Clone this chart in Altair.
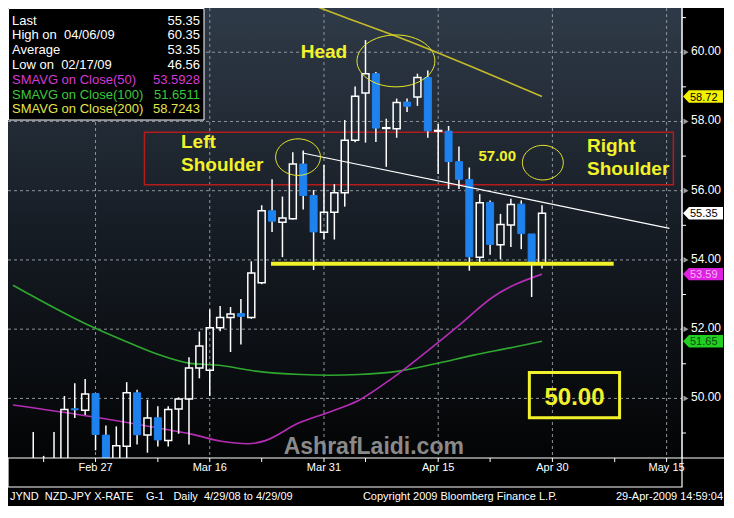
import altair as alt
import pandas as pd
import numpy as np

W, H = 674, 450
PAD_R, PAD_B = 42, 48
SX, SY = W / 692.0, H / 468.0
NB = "\u00a0"

# ---------------- data ----------------
day_idx = list(range(-8, 44))
opens = [47.3, 47.2, 47.7, 48.0, 47.9, 48.1, 49.70, 49.66, 50.14, 48.94, 48.0, 48.62, 50.16, 48.94, 49.44, 48.78,
         49.69, 49.98, 50.88, 50.81, 52.04, 52.34, 52.45, 52.34, 53.34, 55.42, 55.09, 55.19, 56.77, 55.86, 54.80,
         55.38, 55.94, 57.46, 58.82, 59.38, 57.80, 57.79, 58.56, 58.71, 59.27, 57.72, 57.72, 56.84, 56.32, 54.08,
         55.66, 54.44, 55.01, 55.61, 54.75, 53.90]
highs = [47.6, 47.9, 49.03, 48.34, 49.03, 50.07, 50.44, 50.56, 50.15, 49.22, 49.19, 50.47, 50.25, 49.96, 49.77,
         49.77, 50.03, 51.19, 51.93, 52.57, 52.67, 52.64, 52.87, 53.96, 55.58, 56.33, 55.83, 57.11, 57.16, 56.02,
         56.74, 56.19, 58.04, 59.01, 60.35, 59.43, 58.08, 58.66, 58.66, 59.38, 59.47, 57.93, 57.87, 57.28, 56.67,
         55.90, 55.72, 55.33, 55.77, 55.72, 54.75, 55.58]
lows = [46.56, 46.9, 47.5, 47.6, 47.7, 47.9, 49.43, 49.52, 48.5, 47.9, 47.8, 48.2, 48.67, 48.43, 48.61, 48.61,
        48.98, 48.67, 50.58, 50.07, 51.94, 51.34, 51.56, 52.30, 53.30, 54.81, 54.08, 55.17, 55.46, 53.71, 54.59,
        54.59, 55.54, 57.40, 57.39, 57.41, 56.69, 57.53, 58.27, 58.45, 57.53, 56.48, 56.05, 56.05, 53.69, 53.92,
        54.15, 54.02, 54.37, 54.31, 52.93, 53.75]
closes = [47.1, 47.7, 48.0, 47.9, 48.1, 49.68, 49.67, 50.13, 48.96, 48.1, 48.63, 50.16, 48.95, 49.43, 48.80, 49.68,
          49.98, 50.88, 51.51, 52.04, 52.34, 52.44, 52.37, 53.62, 55.42, 55.12, 55.21, 56.77, 55.86, 54.81, 55.38,
          55.94, 57.46, 58.73, 59.38, 57.81, 57.82, 58.55, 58.44, 59.27, 57.73, 57.74, 56.84, 56.33, 54.09, 55.65,
          54.45, 55.02, 55.60, 54.76, 53.92, 55.35]

ma50_idx = [-7.95, -0.28, 5.92, 9.34, 12.11, 14.7, 16.36, 19.5, 22.55, 25.33, 28.56, 31.8, 35.0, 38.27, 43]
ma50_val = [49.81, 49.47, 49.15, 48.96, 48.76, 48.69, 48.78, 49.28, 49.61, 49.94, 50.58, 51.33, 52.11, 52.93, 53.59]
ma100_idx = [-7.95, -0.28, 2.87, 5.92, 8.97, 12.11, 15.16, 19.78, 22.55, 25.33, 29.03, 32.72, 36.42, 40.12, 43]
ma100_val = [53.27, 52.06, 51.65, 51.28, 51.02, 50.95, 50.80, 50.69, 50.67, 50.69, 50.78, 51.00, 51.25, 51.47, 51.65]
ma200_idx = [18, 24, 30, 36, 43]
ma200_val = [61.69, 61.01, 60.34, 59.61, 58.72]

x_tick_vals = [0, 11, 22, 33, 44, 55]
x_tick_labels = ["Feb 27", "Mar 16", "Mar 31", "Apr 15", "Apr 30", "May 15"]
x_minor = [-5, 6, 16, 26, 38, 50]
y_grid = [50, 52, 54, 56, 58, 60]
y_minor = [49, 51, 53, 55, 57, 59, 61]

legend_labels = ["Last", f"High on{NB}{NB}04/06/09", "Average", f"Low on{NB}{NB}02/17/09",
                 "SMAVG on Close(50)", "SMAVG on Close(100)", "SMAVG on Close(200)"]
legend_values = ["55.35", "60.35", "53.35", "46.56", "53.5928", "51.6511", "58.7243"]
legend_colors = ["#ffffff", "#ffffff", "#ffffff", "#ffffff", "#d63ad6", "#3cc83c", "#e6e64a"]

tag_vals = [58.72, 55.35, 53.59, 51.65]
tag_fill = ["#f2f200", "#ffffff", "#e020e0", "#22d022"]
tag_text = ["#000000", "#000000", "#f6b6f6", "#0b4a0b"]

neck_idx = [19.93, 55.27]
neck_val = [57.09, 54.91]
support_idx = [16.9, 49.9]
support_val = [53.89, 53.89]
zone_idx = [4.71, 55.65]
zone_val = [57.69, 56.17]
target_box_idx = [41.78, 50.47]
target_box_val = [50.75, 49.44]

ell_idx = [28.93, 19.5, 43.08]
ell_val = [59.75, 56.97, 56.81]
ell_rx = [40, 23, 21]
ell_ry = [27, 19, 18]

ann_text = ["Head", "Left", "Shoulder", "Right", "Shoulder", "57.00", "50.00"]
ann_idx = [22.0, 8.23, 8.23, 47.33, 47.33, 36.88, 46.13]
ann_val = [59.83, 57.22, 56.575, 57.13, 56.46, 56.85, 49.80]
ann_size = [19, 19, 19, 19, 19, 15, 24]
ann_align = ["center", "left", "left", "left", "left", "left", "center"]

footer_left = f"JYND{NB}{NB}NZD-JPY X-RATE{NB}{NB}{NB}{NB}G-1{NB}{NB}{NB}Daily{NB}{NB}4/29/08 to 4/29/09"
footer_mid = "Copyright 2009 Bloomberg Finance L.P."
footer_right = "29-Apr-2009 14:59:04"

# ---------------- scales ----------------
XD = [-7.95, 56.0]
YD = [48.278, 61.278]
xs = alt.Scale(domain=XD, nice=False, zero=False)
ys = alt.Scale(domain=YD, nice=False, zero=False)

c = pd.DataFrame({"i": day_idx, "o": opens, "h": highs, "l": lows, "c": closes})
c["top"] = c[["o", "c"]].max(axis=1)
c["bot"] = c[["o", "c"]].min(axis=1)
up = c[c["c"] >= c["o"]]
dn = c[c["c"] < c["o"]]

one = pd.DataFrame({"a": [0]})
FONT = "Liberation Sans"
YEL = "#f2f22a"


def X(f):
    return alt.X(f, scale=xs, axis=None)


def Y(f):
    return alt.Y(f, scale=ys, axis=None)


# background gradient
bg = alt.Chart(one).mark_rect(
    color=alt.LinearGradient(gradient="linear", x1=0, x2=0, y1=0, y2=1,
                             stops=[alt.GradientStop(color="#2f3a48", offset=0),
                                    alt.GradientStop(color="#161c24", offset=0.5),
                                    alt.GradientStop(color="#030405", offset=1)])
).encode(x=alt.value(0), x2=alt.value(W), y=alt.value(0), y2=alt.value(H))

gx = alt.Chart(pd.DataFrame({"g": x_tick_vals})).mark_rule(
    color="#8f959c", strokeDash=[3, 3], strokeWidth=1, clip=True
).encode(x=X("g:Q"), y=alt.value(0), y2=alt.value(H))
gy = alt.Chart(pd.DataFrame({"g": y_grid})).mark_rule(
    color="#8f959c", strokeDash=[3, 3], strokeWidth=1
).encode(y=Y("g:Q"), x=alt.value(0), x2=alt.value(W))


def ma_line(ix, vals, color):
    return alt.Chart(pd.DataFrame({"i": ix, "v": vals})).mark_line(
        color=color, strokeWidth=1.6, interpolate="monotone", clip=True
    ).encode(x=X("i:Q"), y=Y("v:Q"))


ma50 = ma_line(ma50_idx, ma50_val, "#b52db5")
ma100 = ma_line(ma100_idx, ma100_val, "#2fa82f")
ma200 = ma_line(ma200_idx, ma200_val, "#c4bb2a")

wick_hi = alt.Chart(c).mark_rule(color="white", strokeWidth=1.5, clip=True).encode(
    x=X("i:Q"), y=Y("h:Q"), y2="top:Q")
wick_lo = alt.Chart(c).mark_rule(color="white", strokeWidth=1.5, clip=True).encode(
    x=X("i:Q"), y=Y("bot:Q"), y2="l:Q")
body_up = alt.Chart(up).mark_bar(size=7, fillOpacity=0, stroke="white", strokeWidth=1.5, clip=True,
                                 orient="vertical").encode(x=X("i:Q"), y=Y("o:Q"), y2="c:Q")
body_dn = alt.Chart(dn).mark_bar(size=7, color="#1e82ee", stroke="#1e82ee", strokeWidth=1, clip=True,
                                 orient="vertical").encode(x=X("i:Q"), y=Y("o:Q"), y2="c:Q")

zone = alt.Chart(pd.DataFrame({"x1": [zone_idx[0]], "x2": [zone_idx[1]], "y1": [zone_val[0]], "y2": [zone_val[1]]})
                 ).mark_rect(fillOpacity=0, stroke="#b41c1c", strokeWidth=1.5).encode(
    x=X("x1:Q"), x2="x2:Q", y=Y("y1:Q"), y2="y2:Q")

neck = alt.Chart(pd.DataFrame({"i": neck_idx, "v": neck_val})).mark_line(color="white", strokeWidth=1.2).encode(
    x=X("i:Q"), y=Y("v:Q"))
support = alt.Chart(pd.DataFrame({"i": support_idx, "v": support_val})).mark_line(color=YEL, strokeWidth=4).encode(
    x=X("i:Q"), y=Y("v:Q"))

tbox = alt.Chart(pd.DataFrame({"x1": [target_box_idx[0]], "x2": [target_box_idx[1]],
                               "y1": [target_box_val[0]], "y2": [target_box_val[1]]})
                 ).mark_rect(fillOpacity=0, stroke=YEL, strokeWidth=3).encode(
    x=X("x1:Q"), x2="x2:Q", y=Y("y1:Q"), y2="y2:Q")


def ellipse_path(ratio, n=60):
    pts = [f"{np.cos(2 * np.pi * k / n):.4f},{ratio * np.sin(2 * np.pi * k / n):.4f}" for k in range(n)]
    return "M" + "L".join(pts) + "Z"


ellipses = []
for ei, ev, rx, ry in zip(ell_idx, ell_val, ell_rx, ell_ry):
    ratio = (ry * SY) / (rx * SX)
    size = (2 * rx * SX) ** 2
    ellipses.append(alt.Chart(pd.DataFrame({"i": [ei], "v": [ev]})).mark_point(
        shape=ellipse_path(ratio), size=size, filled=False, stroke="#e6e62a", strokeWidth=1, opacity=1
    ).encode(x=X("i:Q"), y=Y("v:Q")))

ann_layers = []
for t, ai, av, fs, al in zip(ann_text, ann_idx, ann_val, ann_size, ann_align):
    ann_layers.append(alt.Chart(pd.DataFrame({"i": [ai], "v": [av], "t": [t]})).mark_text(
        font=FONT, fontWeight="bold", fontSize=fs, color=YEL, align=al, baseline="alphabetic"
    ).encode(x=X("i:Q"), y=Y("v:Q"), text="t:N"))

watermark = alt.Chart(pd.DataFrame({"i": [26.8], "v": [48.39], "t": ["AshrafLaidi.com"]})).mark_text(
    font=FONT, fontWeight="bold", fontSize=23, color="#8a8a8a", align="center", baseline="alphabetic"
).encode(x=X("i:Q"), y=Y("v:Q"), text="t:N")

# ---------------- right axis (drawn with marks) ----------------
y_domain_line = alt.Chart(one).mark_rule(color="white", strokeWidth=1.5).encode(
    x=alt.value(W), y=alt.value(0), y2=alt.value(H))
y_minor_ticks = alt.Chart(pd.DataFrame({"g": y_minor})).mark_rule(color="white", strokeWidth=1).encode(
    x=alt.value(W), x2=alt.value(W + 4), y=Y("g:Q"))
arrows = alt.Chart(pd.DataFrame({"g": y_grid})).mark_point(
    shape="triangle-right", filled=True, size=34, color="#9a9a9a", opacity=1
).encode(x=alt.value(W + 4), y=Y("g:Q"))
y_labels = alt.Chart(pd.DataFrame({"g": y_grid, "t": [f"{v:.2f}" for v in y_grid]})).mark_text(
    font=FONT, fontSize=12, color="white", align="left", baseline="middle", dy=-1
).encode(x=alt.value(W + 9), y=Y("g:Q"), text="t:N")

tag_shape = "M-1,0L-0.7,-0.31L1,-0.31L1,0.31L-0.7,0.31Z"
tdf = pd.DataFrame({"v": tag_vals, "f": tag_fill, "tc": tag_text, "t": [f"{v:.2f}" for v in tag_vals]})
tags = alt.Chart(tdf).mark_point(shape=tag_shape, filled=True, size=1600, opacity=1).encode(
    x=alt.value(W + 21), y=Y("v:Q"), color=alt.Color("f:N", scale=None))
tag_txt = alt.Chart(tdf).mark_text(font=FONT, fontSize=11, align="left", baseline="middle", dy=1).encode(
    x=alt.value(W + 8), y=Y("v:Q"), text="t:N", color=alt.Color("tc:N", scale=None))

# ---------------- bottom axis (drawn with marks) ----------------
frame = alt.Chart(one).mark_rect(fillOpacity=0, stroke="white", strokeWidth=1.2).encode(
    x=alt.value(0), x2=alt.value(W), y=alt.value(H), y2=alt.value(H + 29))
frame_r = alt.Chart(one).mark_rule(color="white", strokeWidth=1.2).encode(
    x=alt.value(W), x2=alt.value(W + PAD_R), y=alt.value(H))
x_ticks = alt.Chart(pd.DataFrame({"g": x_tick_vals + x_minor})).mark_rule(color="white", strokeWidth=1).encode(
    x=X("g:Q"), y=alt.value(H), y2=alt.value(H + 4))
x_labels = alt.Chart(pd.DataFrame({"g": x_tick_vals, "t": x_tick_labels})).mark_text(
    font=FONT, fontSize=11, color="white", align="center", baseline="middle"
).encode(x=X("g:Q"), y=alt.value(H + 10), text="t:N")

# ---------------- legend box ----------------
leg_layers = [alt.Chart(one).mark_rect(fill="black", stroke="white", strokeWidth=1).encode(
    x=alt.value(0.5), x2=alt.value(196), y=alt.value(0.5), y2=alt.value(112))]
for k, (lab, val, col) in enumerate(zip(legend_labels, legend_values, legend_colors)):
    yy = 12.5 + 14.8 * k
    leg_layers.append(alt.Chart(one).mark_text(font=FONT, fontSize=13, color=col, align="left",
                                               baseline="middle", text=lab).encode(
        x=alt.value(4), y=alt.value(yy)))
    leg_layers.append(alt.Chart(one).mark_text(font=FONT, fontSize=13, color=col, align="right",
                                               baseline="middle", text=val).encode(
        x=alt.value(192), y=alt.value(yy)))

fy = H + 29 + 10
footer = [
    alt.Chart(one).mark_text(font=FONT, fontSize=11, color="white", align="left", baseline="middle",
                             text=footer_left).encode(x=alt.value(2), y=alt.value(fy)),
    alt.Chart(one).mark_text(font=FONT, fontSize=11, color="white", align="center", baseline="middle",
                             text=footer_mid).encode(x=alt.value(452), y=alt.value(fy)),
    alt.Chart(one).mark_text(font=FONT, fontSize=11, color="white", align="right", baseline="middle",
                             text=footer_right).encode(x=alt.value(W + PAD_R - 1), y=alt.value(fy)),
]

layers = ([bg, gx, gy, ma100, ma50, ma200, zone, wick_hi, wick_lo, body_dn, body_up, neck, support, tbox]
          + ellipses + ann_layers
          + [watermark, y_domain_line, y_minor_ticks, arrows, y_labels, tags, tag_txt,
             frame, frame_r, x_ticks, x_labels]
          + leg_layers + footer)

chart = alt.layer(*layers).properties(
    width=W, height=H,
    autosize=alt.AutoSizeParams(type="none"),
    padding={"left": 0, "top": 0, "right": PAD_R, "bottom": PAD_B},
    background="#000000",
).configure_view(stroke="transparent")

chart.save("out.html", embed_options={"renderer": "svg", "actions": False})
